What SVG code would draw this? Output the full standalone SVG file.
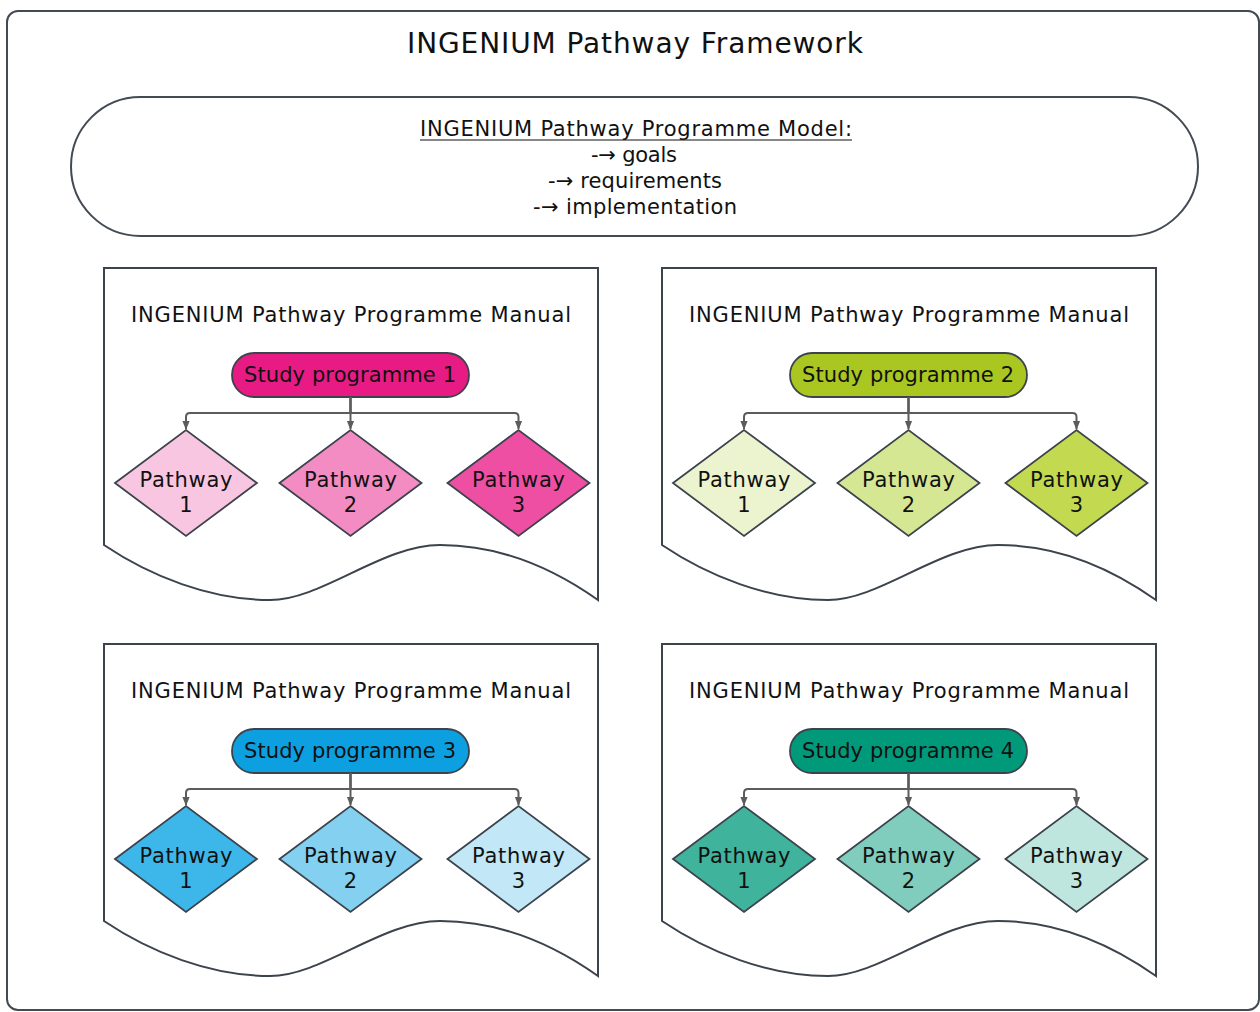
<svg xmlns="http://www.w3.org/2000/svg" xmlns:xlink="http://www.w3.org/1999/xlink" width="1260" height="1012" viewBox="0 0 1260 1012">
  <style>
    text { font-family: "DejaVu Sans", "Noto Sans", sans-serif; fill: #111; text-anchor: middle; }
    .frame { fill: #fff; stroke: #434a54; stroke-width: 2; }
    .doc { fill: #fff; stroke: #3c434d; stroke-width: 2; }
    .shape { stroke: #3c434d; stroke-width: 1.8; }
    .conn { fill: none; stroke: #5c5c5c; stroke-width: 2; marker-end: url(#arrow); }
    .title { font-size: 28px; }
    .model { font-size: 21px; }
    .manual { font-size: 21px; }
    .pill-t { font-size: 21px; }
    .dia-t { font-size: 21px; }
  </style>
  <defs>
    <marker id="arrow" markerUnits="userSpaceOnUse" viewBox="0 0 10 10" refX="9" refY="5" markerWidth="10" markerHeight="9" orient="auto">
      <path d="M0,1 L10,5 L0,9 z" fill="#5c5c5c"/>
    </marker>
    <!-- document sheet with a wavy lower edge -->
    <path id="docShape" d="M104,268 H598 V600 C550,566 498,545 440,545 C382,545 322,600 270,600 C210,600 150,576 104,545 Z"/>
    <path id="diamond" d="M-71,0 L0,-53 L71,0 L0,53 Z"/>
  </defs>

  <!-- outer framework container -->
  <g id="framework">
    <rect class="frame" x="7" y="11" width="1252" height="999" rx="11"/>
    <text class="title" x="635" y="53" textLength="456">INGENIUM Pathway Framework</text>
  </g>

  <!-- programme model -->
  <g id="model">
    <rect class="frame" x="71" y="97" width="1127" height="139" rx="69.5"/>
    <text class="model" x="636" y="136" textLength="432">INGENIUM Pathway Programme Model:</text>
    <line x1="420" y1="140" x2="852" y2="140" stroke="#111" stroke-width="1.2"/>
    <text class="model" x="634" y="162" textLength="86">-→ goals</text>
    <text class="model" x="635" y="188" textLength="174">-→ requirements</text>
    <text class="model" x="635" y="214" textLength="204">-→ implementation</text>
  </g>

  <!-- manual 1 -->
  <g id="manual-1">
    <use xlink:href="#docShape" class="doc"/>
    <text class="manual" x="351" y="322" textLength="440">INGENIUM Pathway Programme Manual</text>
  </g>
  <g id="study-programme-1">
    <rect class="shape" x="232" y="353" width="237" height="44" rx="22" fill="#e81b84"/>
    <text class="pill-t" x="350" y="382" textLength="212">Study programme 1</text>
  </g>
  <g id="sp1-pathway-1" transform="translate(186,483)">
    <use xlink:href="#diamond" class="shape" fill="#f9c6e1"/>
    <text class="dia-t" x="0" y="4" textLength="93">Pathway</text>
    <text class="dia-t" x="0" y="29">1</text>
  </g>
  <g id="sp1-pathway-2" transform="translate(350.5,483)">
    <use xlink:href="#diamond" class="shape" fill="#f28cc2"/>
    <text class="dia-t" x="0" y="4" textLength="93">Pathway</text>
    <text class="dia-t" x="0" y="29">2</text>
  </g>
  <g id="sp1-pathway-3" transform="translate(518.5,483)">
    <use xlink:href="#diamond" class="shape" fill="#ee4fa3"/>
    <text class="dia-t" x="0" y="4" textLength="93">Pathway</text>
    <text class="dia-t" x="0" y="29">3</text>
  </g>

  <!-- manual 2 -->
  <g id="manual-2" transform="translate(558,0)">
    <use xlink:href="#docShape" class="doc"/>
    <text class="manual" x="351" y="322" textLength="440">INGENIUM Pathway Programme Manual</text>
  </g>
  <g id="study-programme-2" transform="translate(558,0)">
    <rect class="shape" x="232" y="353" width="237" height="44" rx="22" fill="#a9c720"/>
    <text class="pill-t" x="350" y="382" textLength="212">Study programme 2</text>
  </g>
  <g id="sp2-pathway-1" transform="translate(744,483)">
    <use xlink:href="#diamond" class="shape" fill="#ecf3cf"/>
    <text class="dia-t" x="0" y="4" textLength="93">Pathway</text>
    <text class="dia-t" x="0" y="29">1</text>
  </g>
  <g id="sp2-pathway-2" transform="translate(908.5,483)">
    <use xlink:href="#diamond" class="shape" fill="#d6e794"/>
    <text class="dia-t" x="0" y="4" textLength="93">Pathway</text>
    <text class="dia-t" x="0" y="29">2</text>
  </g>
  <g id="sp2-pathway-3" transform="translate(1076.5,483)">
    <use xlink:href="#diamond" class="shape" fill="#c2d950"/>
    <text class="dia-t" x="0" y="4" textLength="93">Pathway</text>
    <text class="dia-t" x="0" y="29">3</text>
  </g>

  <!-- manual 3 -->
  <g id="manual-3" transform="translate(0,376)">
    <use xlink:href="#docShape" class="doc"/>
    <text class="manual" x="351" y="322" textLength="440">INGENIUM Pathway Programme Manual</text>
  </g>
  <g id="study-programme-3" transform="translate(0,376)">
    <rect class="shape" x="232" y="353" width="237" height="44" rx="22" fill="#0ca0e0"/>
    <text class="pill-t" x="350" y="382" textLength="212">Study programme 3</text>
  </g>
  <g id="sp3-pathway-1" transform="translate(186,859)">
    <use xlink:href="#diamond" class="shape" fill="#3db7ea"/>
    <text class="dia-t" x="0" y="4" textLength="93">Pathway</text>
    <text class="dia-t" x="0" y="29">1</text>
  </g>
  <g id="sp3-pathway-2" transform="translate(350.5,859)">
    <use xlink:href="#diamond" class="shape" fill="#84d0f0"/>
    <text class="dia-t" x="0" y="4" textLength="93">Pathway</text>
    <text class="dia-t" x="0" y="29">2</text>
  </g>
  <g id="sp3-pathway-3" transform="translate(518.5,859)">
    <use xlink:href="#diamond" class="shape" fill="#c2e7f7"/>
    <text class="dia-t" x="0" y="4" textLength="93">Pathway</text>
    <text class="dia-t" x="0" y="29">3</text>
  </g>

  <!-- manual 4 -->
  <g id="manual-4" transform="translate(558,376)">
    <use xlink:href="#docShape" class="doc"/>
    <text class="manual" x="351" y="322" textLength="440">INGENIUM Pathway Programme Manual</text>
  </g>
  <g id="study-programme-4" transform="translate(558,376)">
    <rect class="shape" x="232" y="353" width="237" height="44" rx="22" fill="#009a7b"/>
    <text class="pill-t" x="350" y="382" textLength="212">Study programme 4</text>
  </g>
  <g id="sp4-pathway-1" transform="translate(744,859)">
    <use xlink:href="#diamond" class="shape" fill="#40b39c"/>
    <text class="dia-t" x="0" y="4" textLength="93">Pathway</text>
    <text class="dia-t" x="0" y="29">1</text>
  </g>
  <g id="sp4-pathway-2" transform="translate(908.5,859)">
    <use xlink:href="#diamond" class="shape" fill="#80cdbd"/>
    <text class="dia-t" x="0" y="4" textLength="93">Pathway</text>
    <text class="dia-t" x="0" y="29">2</text>
  </g>
  <g id="sp4-pathway-3" transform="translate(1076.5,859)">
    <use xlink:href="#diamond" class="shape" fill="#bfe6de"/>
    <text class="dia-t" x="0" y="4" textLength="93">Pathway</text>
    <text class="dia-t" x="0" y="29">3</text>
  </g>

  <!-- connectors: study programme to its pathways -->
  <g id="connectors">
    <g transform="translate(0,0)">
      <path class="conn" d="M350.5,397 V413 H190 Q186,413 186,417 V429"/>
      <path class="conn" d="M350.5,397 V429"/>
      <path class="conn" d="M350.5,397 V413 H514.5 Q518.5,413 518.5,417 V429"/>
    </g>
    <g transform="translate(558,0)">
      <path class="conn" d="M350.5,397 V413 H190 Q186,413 186,417 V429"/>
      <path class="conn" d="M350.5,397 V429"/>
      <path class="conn" d="M350.5,397 V413 H514.5 Q518.5,413 518.5,417 V429"/>
    </g>
    <g transform="translate(0,376)">
      <path class="conn" d="M350.5,397 V413 H190 Q186,413 186,417 V429"/>
      <path class="conn" d="M350.5,397 V429"/>
      <path class="conn" d="M350.5,397 V413 H514.5 Q518.5,413 518.5,417 V429"/>
    </g>
    <g transform="translate(558,376)">
      <path class="conn" d="M350.5,397 V413 H190 Q186,413 186,417 V429"/>
      <path class="conn" d="M350.5,397 V429"/>
      <path class="conn" d="M350.5,397 V413 H514.5 Q518.5,413 518.5,417 V429"/>
    </g>
  </g>
</svg>
